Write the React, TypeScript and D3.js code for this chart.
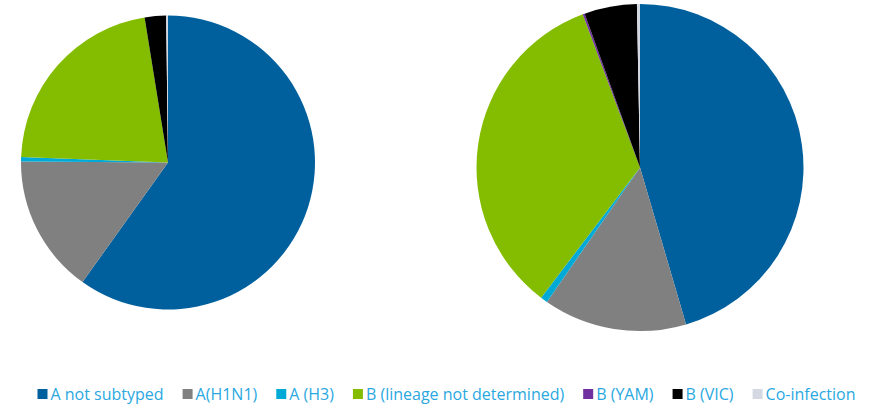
import React, { useMemo } from "react";
import * as d3 from "d3";

const WIDTH = 873;
const HEIGHT = 405;
const FONT = "'Open Sans', sans-serif";
const FONT_SIZE = 16;

const categories = [
  "A not subtyped",
  "A(H1N1)",
  "A (H3)",
  "B (lineage not determined)",
  "B (YAM)",
  "B (VIC)",
  "Co-infection",
];

const colors = ["#00609e", "#808080", "#00a9d6", "#84bd00", "#7030a0", "#000000", "#d3d8e2"];

// shares (clockwise from 12 o'clock)
const leftValues = [0.6, 0.1525, 0.005, 0.219, 0.0, 0.0235, 0.002];
const rightValues = [0.455, 0.142, 0.007, 0.34, 0.002, 0.052, 0.003];

const PIES = [
  { values: leftValues, cx: 168, cy: 162.5, r: 147 },
  { values: rightValues, cx: 640, cy: 167.5, r: 163.5 },
];

const measure = (text: string) => {
  const ctx = document.createElement("canvas").getContext("2d");
  if (!ctx) return text.length * 8;
  ctx.font = `${FONT_SIZE}px ${FONT}`;
  return ctx.measureText(text).width;
};

const Pie = ({ values, cx, cy, r }: { values: number[]; cx: number; cy: number; r: number }) => {
  const arcs = d3
    .pie<number>()
    .sort(null)
    .value((d) => d)(values);
  const arc = d3.arc<d3.PieArcDatum<number>>().innerRadius(0).outerRadius(r);
  return (
    <g transform={`translate(${cx},${cy})`}>
      {arcs.map((a, i) =>
        a.value > 0 ? <path key={i} d={arc(a) || ""} fill={colors[i]} /> : null
      )}
    </g>
  );
};

export default function App() {
  const legend = useMemo(() => {
    const SQ = 10;
    const GAP = 3;
    const SPACING = 19;
    const widths = categories.map((c) => measure(c));
    const total =
      widths.reduce((s, w) => s + SQ + GAP + w, 0) + SPACING * (categories.length - 1);
    let x = (WIDTH - total) / 2 + 10;
    return categories.map((c, i) => {
      const item = { label: c, x, color: colors[i] };
      x += SQ + GAP + widths[i] + SPACING;
      return item;
    });
  }, []);

  return (
    <svg
      width={WIDTH}
      height={HEIGHT}
      style={{ position: "absolute", left: 0, top: 0, background: "#fff" }}
    >
      {PIES.map((p, i) => (
        <Pie key={i} {...p} />
      ))}
      <g>
        {legend.map((d) => (
          <g key={d.label} transform={`translate(${d.x},389)`}>
            <rect width={10} height={10} fill={d.color} />
            <text
              x={13}
              y={10.5}
              fontFamily={FONT}
              fontSize={FONT_SIZE}
              fill="#2aa8df"
            >
              {d.label}
            </text>
          </g>
        ))}
      </g>
    </svg>
  );
}
